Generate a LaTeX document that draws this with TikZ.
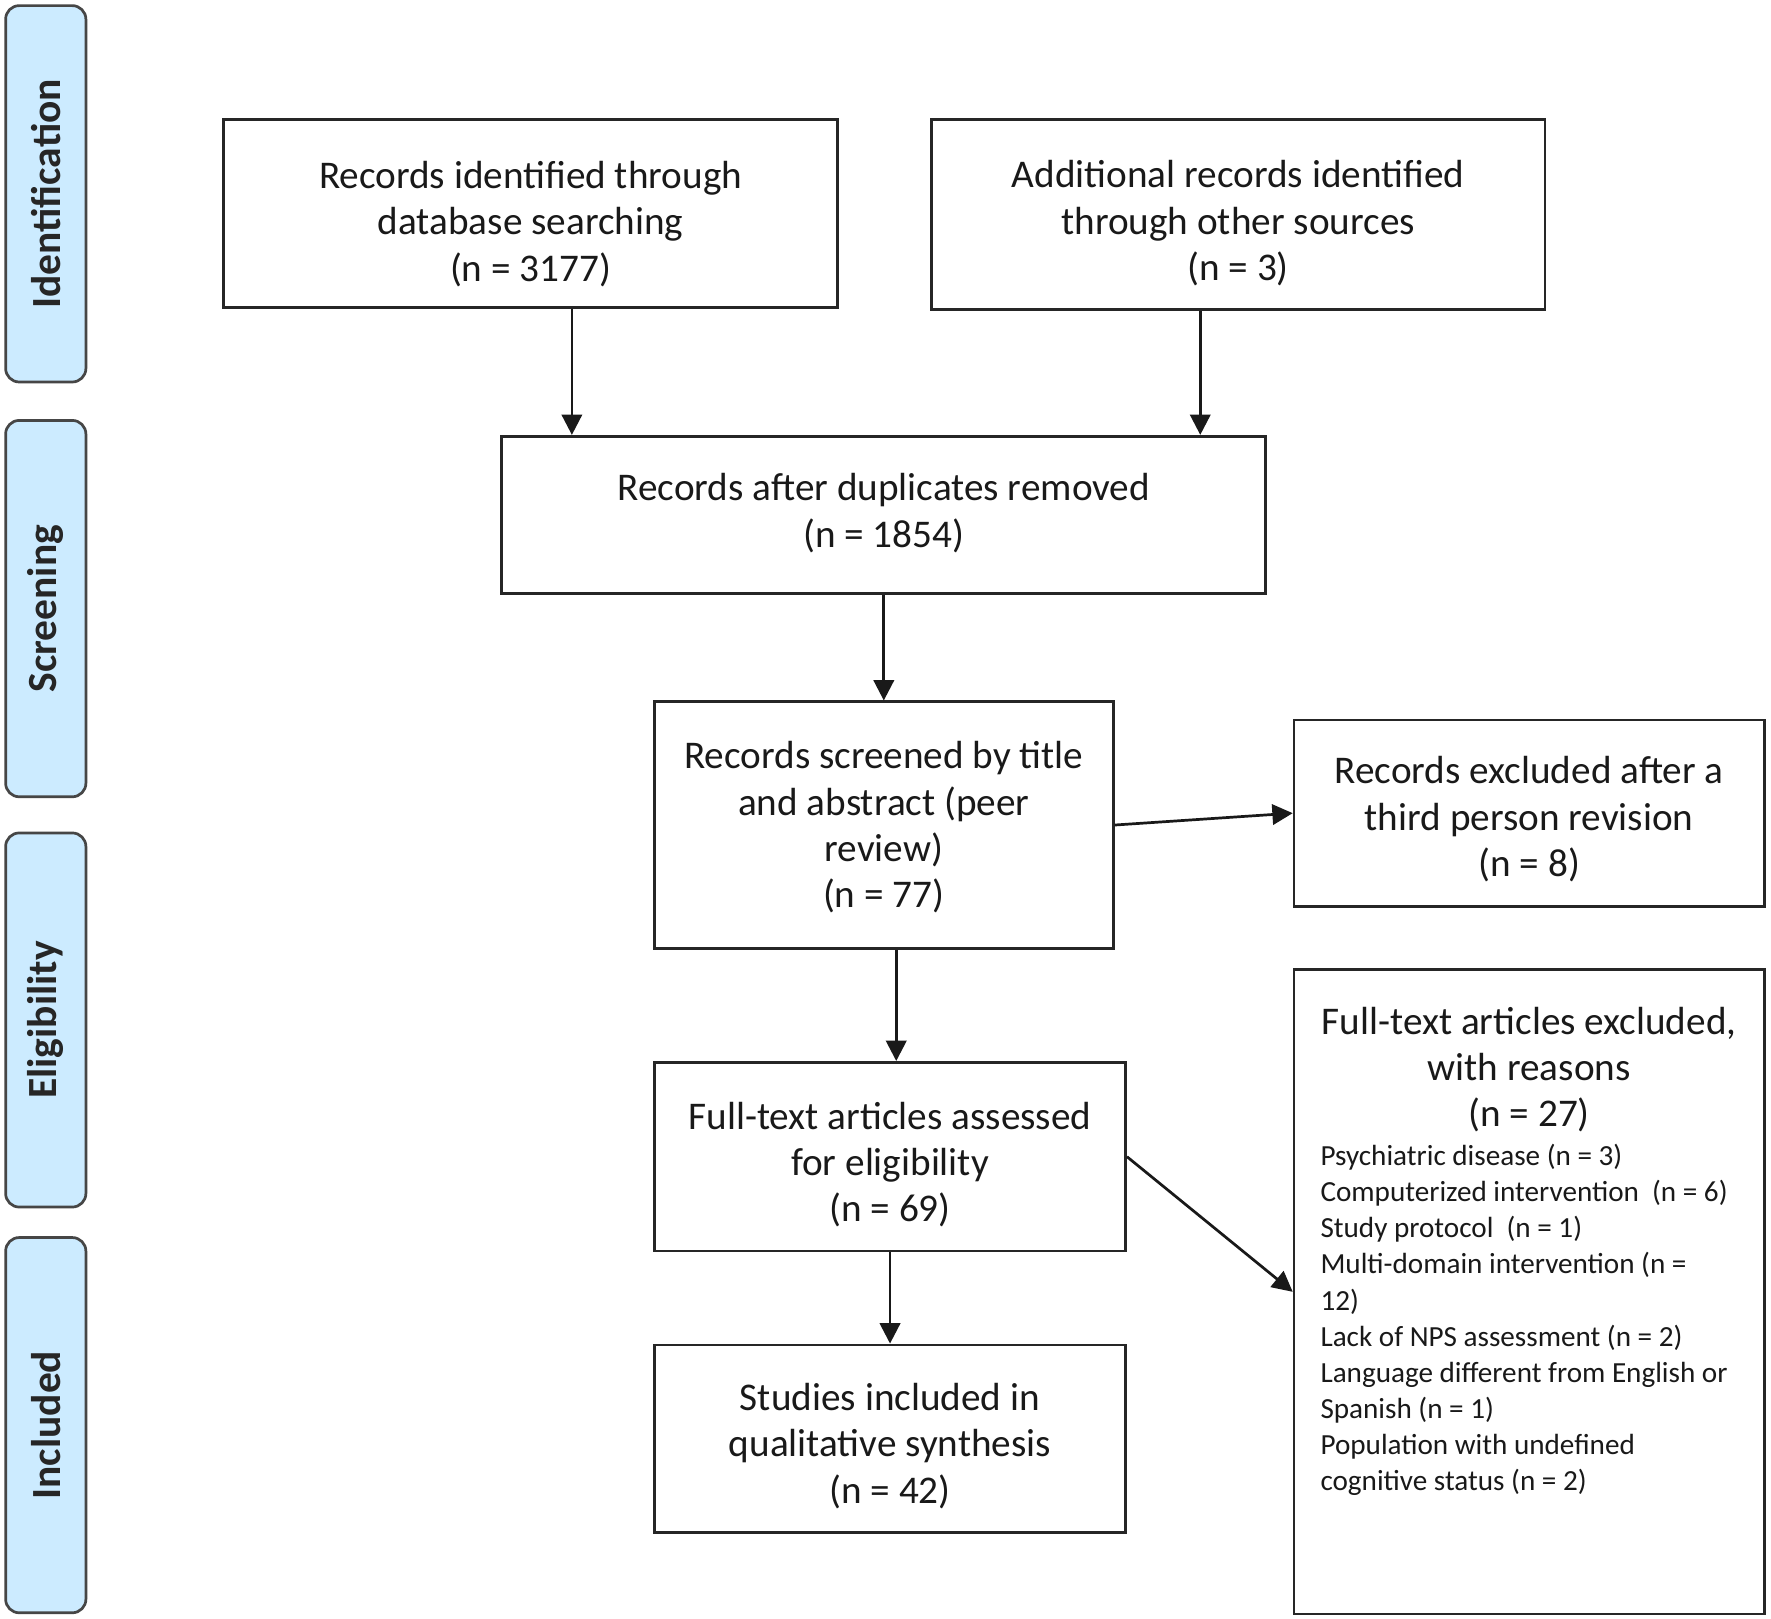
\documentclass[tikz,border=0pt]{standalone}
\usepackage{fontspec}
\setmainfont{Carlito}
\usetikzlibrary{arrows.meta,calc}
\definecolor{lblue}{RGB}{204,235,255}
\definecolor{lborder}{RGB}{70,70,70}
\begin{document}
\begin{tikzpicture}[x=0.5pt,y=-0.5pt,
  phase/.style={draw=lborder, fill=lblue, line width=1.2pt, rounded corners=6pt, rotate=90,
    minimum width=#1*0.5pt, minimum height=35.5pt, inner sep=0pt,
    font=\fontsize{18.35}{22}\selectfont\bfseries, text=black!85},
  wh/.style 2 args={minimum width=#1*0.5pt, minimum height=#2*0.5pt},
  box/.style={draw=black!85, line width=1.2pt, inner sep=0pt},
  bigtxt/.style={inner sep=0pt, align=center, font=\fontsize{17.35}{20.5}\selectfont, text=black!90},
  smalltxt/.style={inner sep=0pt, align=left, font=\fontsize{12.9}{15.95}\selectfont, text=black!90},
  arr/.style={line width=1.2pt, draw=black!90, -{Triangle[length=9pt,width=9pt]}},
]
\useasboundingbox[fill=white] (0,0) rectangle (1567,1432.5);

% phase labels
\node[phase=333] (p1) at (40.5,171.5) {Identification};
\node[phase=333] (p2) at (40.5,538.5) {Screening};
\node[phase=331] (p3) at (40.5,902.5) {Eligibility};
\node[phase=332] (p4) at (40.5,1261) {Included};

% boxes
\node[box, wh={543}{166}] (b1) at (469.5,189) {};
\node[box, wh={543}{168}] (b2) at (1095.5,190) {};
\node[box, wh={676}{139}] (b3) at (782,455.5) {};
\node[box, wh={406}{218}] (b4) at (782,730) {};
\node[box, wh={416}{165}] (b5) at (1353,719.5) {};
\node[box, wh={417}{167}] (b6) at (787.5,1023.5) {};
\node[box, wh={416}{570}] (b7) at (1353,1143) {};
\node[box, wh={417}{166}] (b8) at (787.5,1273) {};

% box texts
\node[bigtxt] (t1) at (469.5,198) {Records identified through\\database searching\\(n = 3177)};
\node[bigtxt] (t2) at (1095.5,197.5) {Additional records identified\\through other sources\\(n = 3)};
\node[bigtxt] (t3) at (782,454) {Records after duplicates removed\\(n = 1854)};
\node[bigtxt] (t4) at (782,732) {Records screened by title\\and abstract (peer\\review)\\(n = 77)};
\node[bigtxt] (t5) at (1353,725) {Records excluded after a\\third person revision\\(n = 8)};
\node[bigtxt] (t6) at (787.5,1030.5) {Full-text articles assessed\\for eligibility\\(n = 69)};
\node[bigtxt] (t8) at (787.5,1279.5) {Studies included in\\qualitative synthesis\\(n = 42)};

% text of the exclusion box (base = baseline of last line)
\node[bigtxt, anchor=base] (t7a) at (1353,997) {Full-text articles excluded,\\with reasons\\(n = 27)};
\node[smalltxt, anchor=base west] (t7b) at (1168,1318.6) {Psychiatric disease (n = 3)\\
Computerized intervention\ \ (n = 6)\\
Study protocol\ \ (n = 1)\\
Multi-domain intervention (n =\\
12)\\
Lack of NPS assessment (n = 2)\\
Language different from English or\\
Spanish (n = 1)\\
Population with undefined\\
cognitive status (n = 2)};

% connectors
\coordinate (a1) at ($(b1.south)+(36.5,0)$);
\draw[arr] (a1) -- (a1 |- b3.north);
\coordinate (a2) at ($(b2.south)+(-33.5,0)$);
\draw[arr] (a2) -- (a2 |- b3.north);
\draw[arr] (b3.south) -- (b4.north);
\coordinate (a4) at ($(b4.south)+(11,0)$);
\draw[arr] (a4) -- (a4 |- b6.north);
\draw[arr] (b6.south) -- (b8.north);
\draw[arr] (b4.east) -- (b5.west);
\draw[arr] (b6.east) -- (b7.west);
\end{tikzpicture}
\end{document}
